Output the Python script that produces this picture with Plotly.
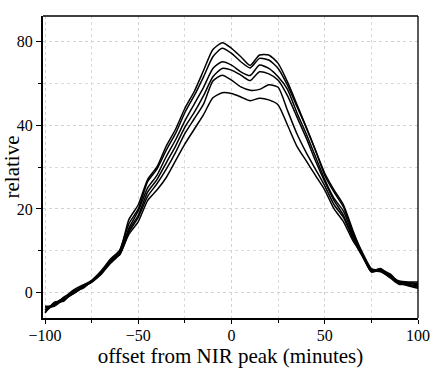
import plotly.graph_objects as go

# offset from NIR peak (minutes)
offsets = list(range(-100, 101, 5))

# six profiles, values in axis units
run_a = [-4.5, -2.8, -1.8, 0.2, 1.4, 2.8, 4.8, 7.6, 9.8, 17.5, 21.0, 27.0, 30.0, 35.0, 39.0, 44.0,
         48.0, 53.0, 58.0, 59.6, 58.3, 56.3, 54.2, 56.7, 56.7, 54.7, 50.3, 45.0, 39.5, 34.0, 28.5,
         24.5, 21.0, 15.0, 9.5, 5.5, 5.6, 4.2, 2.6, 2.4, 2.2]
run_b = [-4.0, -2.5, -1.2, 0.6, 1.8, 3.0, 5.2, 8.0, 10.2, 16.5, 20.0, 26.5, 29.5, 34.0, 38.0, 43.0,
         47.0, 51.5, 56.3, 58.3, 57.1, 55.1, 53.6, 55.9, 55.5, 53.5, 49.5, 44.5, 39.5, 34.0, 28.0,
         24.0, 20.5, 14.5, 9.8, 5.8, 5.2, 3.8, 2.2, 1.8, 1.3]
run_c = [-3.5, -3.2, -1.6, -0.2, 1.2, 2.6, 4.5, 7.2, 9.3, 15.5, 19.5, 25.0, 28.0, 32.5, 36.5, 41.0,
         45.0, 49.0, 53.5, 55.1, 54.3, 52.7, 51.8, 54.3, 53.5, 51.5, 48.5, 43.0, 38.0, 32.5, 27.0,
         22.5, 19.5, 14.0, 9.2, 5.2, 5.8, 4.0, 2.8, 2.6, 2.6]
run_d = [-4.8, -2.2, -2.0, 0.4, 1.0, 2.9, 4.9, 7.5, 9.6, 15.0, 18.5, 24.0, 27.0, 31.0, 35.0, 39.5,
         43.0, 47.0, 51.5, 53.5, 53.1, 51.9, 50.6, 52.7, 52.2, 50.7, 47.0, 42.0, 37.0, 31.5, 26.5,
         22.0, 18.5, 13.5, 9.0, 5.0, 5.4, 4.5, 2.4, 2.0, 1.6]
run_e = [-3.2, -3.0, -1.0, 0.0, 1.6, 2.5, 4.6, 7.8, 9.0, 14.5, 18.0, 23.0, 26.0, 29.5, 33.5, 38.0,
         41.5, 45.0, 50.5, 51.9, 50.7, 49.1, 48.3, 48.5, 49.6, 49.0, 43.5, 38.0, 33.5, 29.5, 25.5,
         21.0, 18.0, 13.0, 8.8, 5.4, 5.0, 3.6, 2.0, 2.2, 1.9]
run_f = [-4.2, -2.6, -1.5, -0.3, 1.2, 2.7, 4.4, 7.0, 9.2, 14.0, 17.0, 22.0, 24.5, 27.5, 31.5, 35.5,
         39.0, 42.5, 46.5, 47.7, 47.5, 46.7, 45.8, 46.4, 46.0, 44.8, 40.0, 35.0, 31.5, 28.0, 24.5,
         20.0, 17.0, 12.5, 9.2, 5.0, 5.5, 4.0, 2.5, 1.6, 1.1]

runs = [run_a, run_b, run_c, run_d, run_e, run_f]

y_tick_values = [0, 20, 40, 60]
y_tick_labels = ["0", "20", "40", "80"]
x_tick_values = [-100, -50, 0, 50, 100]
x_tick_labels = ["\u2212100", "\u221250", "0", "50", "100"]

fig = go.Figure()
for run in runs:
    fig.add_trace(go.Scatter(
        x=offsets, y=run, mode="lines",
        line=dict(color="black", width=1.5, shape="spline", smoothing=0.6),
        showlegend=False,
    ))

serif = "Liberation Serif, Times New Roman, serif"
grid = dict(showgrid=True, gridcolor="#d2d2d2", gridwidth=1, griddash="dot")

fig.update_layout(
    width=436, height=368,
    paper_bgcolor="white", plot_bgcolor="white",
    margin=dict(l=43, r=18, t=16, b=50),
    font=dict(family=serif, color="black", size=16),
    xaxis=dict(
        range=[-101.1, 100], automargin=False,
        tickvals=x_tick_values, ticktext=x_tick_labels,
        ticks="outside", ticklen=4, tickwidth=1.2, tickcolor="black",
        ticklabelstandoff=-2,
        showline=True, linecolor="black", linewidth=2,
        zeroline=False,
        minor=dict(dtick=25, tick0=-100, ticks="outside", ticklen=3, tickcolor="black",
                   showgrid=True, gridcolor="#dadada", griddash="dot"),
        title=dict(text="offset from NIR peak (minutes)", font=dict(size=21), standoff=0),
        **grid,
    ),
    yaxis=dict(
        range=[-6, 66], automargin=False,
        tickvals=y_tick_values, ticktext=y_tick_labels,
        ticks="outside", ticklen=5, tickwidth=1.2, tickcolor="black",
        showline=True, linecolor="black", linewidth=2,
        zeroline=False,
        minor=dict(dtick=10, tick0=0, ticks="outside", ticklen=3, tickcolor="black",
                   showgrid=True, gridcolor="#dadada", griddash="dot"),
        title=dict(text="relative", font=dict(size=21), standoff=0),
        **grid,
    ),
    shapes=[
        dict(type="line", xref="paper", yref="paper", x0=0, x1=1, y0=1, y1=1,
             line=dict(color="black", width=1.3)),
        dict(type="line", xref="paper", yref="paper", x0=1, x1=1, y0=0, y1=1,
             line=dict(color="black", width=1.3)),
    ],
)

fig.write_html("out.html", config={"displayModeBar": False})

# the page body has a default 8px margin; drop it so the figure fills the window
with open("out.html", "r", encoding="utf-8") as f:
    html = f.read()
html = html.replace("<head>", "<head><style>html,body{margin:0;padding:0;overflow:hidden}</style>", 1)
with open("out.html", "w", encoding="utf-8") as f:
    f.write(html)
